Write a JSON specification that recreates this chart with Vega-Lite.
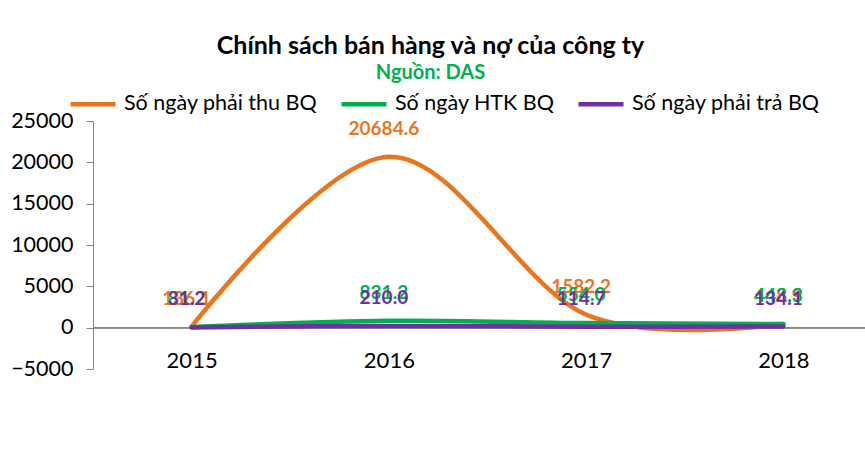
{
  "$schema": "https://vega.github.io/schema/vega-lite/v6.json",
  "width": 789,
  "height": 248,
  "autosize": {"type": "none"},
  "padding": {"left": 93, "top": 121, "right": 0, "bottom": 85},
  "background": "white",
  "config": {"font": "Lato", "view": {"stroke": null}},
  "title": {
    "text": "Chính sách bán hàng và nợ của công ty",
    "subtitle": "Nguồn: DAS",
    "fontSize": 25,
    "fontWeight": "bold",
    "color": "black",
    "subtitleColor": "#00B050",
    "subtitleFontSize": 20,
    "subtitleFontWeight": "bold",
    "subtitlePadding": 4,
    "anchor": "middle",
    "frame": "group",
    "dx": -57,
    "offset": -4
  },
  "data": {
    "values": [
      {"year": "2015", "series": "Số ngày phải thu BQ", "value": 136.1},
      {"year": "2016", "series": "Số ngày phải thu BQ", "value": 20684.6},
      {"year": "2017", "series": "Số ngày phải thu BQ", "value": 1582.2},
      {"year": "2018", "series": "Số ngày phải thu BQ", "value": 448.9},
      {"year": "2015", "series": "Số ngày HTK BQ", "value": 81.2},
      {"year": "2016", "series": "Số ngày HTK BQ", "value": 831.2},
      {"year": "2017", "series": "Số ngày HTK BQ", "value": 554.0},
      {"year": "2018", "series": "Số ngày HTK BQ", "value": 443.3},
      {"year": "2015", "series": "Số ngày phải trả BQ", "value": 31.2},
      {"year": "2016", "series": "Số ngày phải trả BQ", "value": 210.0},
      {"year": "2017", "series": "Số ngày phải trả BQ", "value": 114.7},
      {"year": "2018", "series": "Số ngày phải trả BQ", "value": 134.1}
    ]
  },
  "layer": [
    {
      "mark": {"type": "rule", "color": "#868686", "strokeWidth": 1},
      "encoding": {"y": {"datum": 0, "type": "quantitative"}}
    },
    {
      "mark": {"type": "line", "strokeWidth": 4.5, "interpolate": "cardinal", "strokeCap": "round"},
      "encoding": {
        "x": {
          "field": "year",
          "type": "ordinal",
          "scale": {"type": "point", "padding": 0.5},
          "axis": {
            "title": null,
            "labelAngle": 0,
            "domain": false,
            "ticks": false,
            "offset": -24,
            "labelPadding": 5,
            "labelFontSize": 22,
            "labelColor": "black",
            "labelFont": "Lato"
          }
        },
        "y": {
          "field": "value",
          "type": "quantitative",
          "scale": {"domain": [-5000, 25000], "nice": false, "zero": false},
          "axis": {
            "title": null,
            "values": [-5000, 0, 5000, 10000, 15000, 20000, 25000],
            "format": "d",
            "grid": false,
            "domainColor": "#868686",
            "tickColor": "#868686",
            "tickSize": 7,
            "labelFontSize": 21.5,
            "labelPadding": 13,
            "labelColor": "black",
            "labelFont": "Lato"
          }
        },
        "color": {
          "field": "series",
          "type": "nominal",
          "scale": {
            "domain": ["Số ngày phải thu BQ", "Số ngày HTK BQ", "Số ngày phải trả BQ"],
            "range": ["#E8761E", "#00B050", "#7030A0"]
          },
          "legend": {
            "title": null,
            "orient": "none",
            "legendX": -25,
            "legendY": -42,
            "direction": "horizontal",
            "symbolType": "stroke",
            "symbolSize": 2025,
            "symbolStrokeWidth": 4.5,
            "labelFontSize": 21.5,
            "labelLimit": 400,
            "labelOffset": 6,
            "labelColor": "black",
            "labelFont": "Lato",
            "columnPadding": 14
          }
        }
      }
    },
    {
      "mark": {"type": "text", "dy": -28, "dx": -5, "fontSize": 19, "fontWeight": "bold", "font": "Lato"},
      "encoding": {
        "x": {"field": "year", "type": "ordinal"},
        "y": {"field": "value", "type": "quantitative"},
        "text": {"field": "value", "type": "quantitative", "format": ".1f"},
        "color": {"field": "series", "type": "nominal"}
      }
    }
  ]
}
